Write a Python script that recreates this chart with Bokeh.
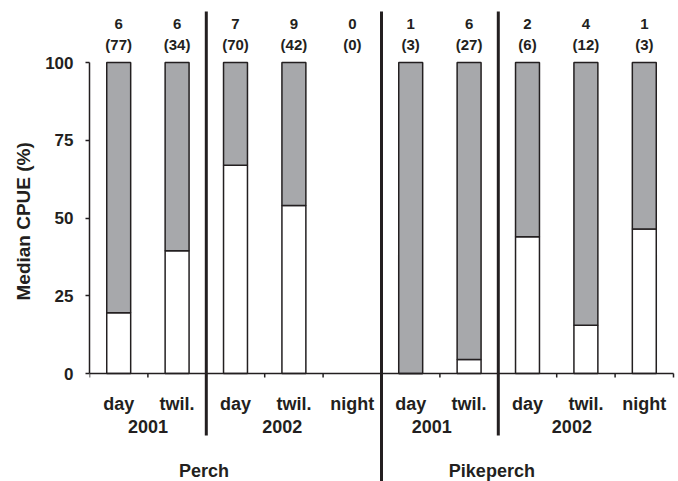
import numpy as np
from bokeh.plotting import figure
from bokeh.models import Range1d, FixedTicker, ColumnDataSource, Title
from bokeh.embed import file_html
from bokeh.resources import INLINE
from bokeh.core.properties import value

# --- data -------------------------------------------------------------
species = ["Perch", "Pikeperch"]
years = ["2001", "2002", "2001", "2002"]
periods_per_year = [2, 3, 2, 3]
periods = ["day", "twil.", "day", "twil.", "night",
           "day", "twil.", "day", "twil.", "night"]
# share of median CPUE in the lower (white) part of each bar, %
lower_pct = [19.5, 39.5, 67, 54, np.nan, 0, 4.5, 44, 15.5, 46.5]
n_samples = [6, 6, 7, 9, 0, 1, 6, 2, 4, 1]
n_fish = [77, 34, 70, 42, 0, 3, 27, 6, 12, 3]
y_ticks = [0, 25, 50, 75, 100]
y_title = "Median CPUE (%)"

# --- layout constants -------------------------------------------------
FONT = "Liberation Sans"
INK = "#231f20"
GREY = "#a7a8ab"
PX_PER_UNIT = 3.11
PX_PER_CAT = 58.4
year_label_x = [1.0, 3.3, 5.86, 8.26]
species_label_x = [1.96, 6.89]

n = len(periods)
centers = np.arange(n) + 0.5
lower = np.array(lower_pct, dtype=float)
has_bar = ~np.isnan(lower)

p = figure(width=678, height=481, output_backend="svg", toolbar_location=None,
           x_range=Range1d(0, 589 / PX_PER_CAT),
           y_range=Range1d(-108 / PX_PER_UNIT, 373 / PX_PER_UNIT),
           x_axis_location=None,
           min_border_left=89, min_border_right=0,
           min_border_top=0, min_border_bottom=0)
p.outline_line_color = None
p.grid.visible = False
p.background_fill_color = "white"

# y axis, drawn only over 0-100 %
ya = p.yaxis[0]
ya.bounds = (0, 100)
ya.ticker = FixedTicker(ticks=y_ticks)
ya.minor_tick_line_color = None
ya.major_tick_in = 0
ya.major_tick_out = 4
ya.axis_line_width = 1.5
ya.major_tick_line_width = 1.5
ya.axis_line_color = INK
ya.major_tick_line_color = INK
ya.major_label_text_font = FONT
ya.major_label_text_font_style = "bold"
ya.major_label_text_font_size = "17px"
ya.major_label_text_color = INK
ya.major_label_standoff = 12

# axis title, placed from the bottom so it sits centred on the 0-100 span
p.add_layout(Title(text=y_title, align="left", offset=181, standoff=18,
                   text_font=FONT, text_font_style="bold", text_font_size="19px",
                   text_color=INK), "left")

# stacked bars: white lower part, grey remainder up to 100 %
bars = ColumnDataSource(dict(x=centers[has_bar], low=lower[has_bar],
                             top=np.full(has_bar.sum(), 100.0)))
p.vbar(x="x", bottom=0, top="low", width=0.41, source=bars,
       fill_color="white", line_color=INK, line_width=1.5)
p.vbar(x="x", bottom="low", top="top", width=0.41, source=bars,
       fill_color=GREY, line_color=INK, line_width=1.5)

# category axis along y = 0
tick_len = 4 / PX_PER_UNIT
p.segment(x0=[0], y0=[0], x1=[n], y1=[0], line_color=INK, line_width=1.5)
edges = np.arange(n + 1)
p.segment(x0=edges, y0=np.zeros(n + 1), x1=edges, y1=np.full(n + 1, -tick_len),
          line_color=INK, line_width=1.5)

# separators between years and species
year_edges = np.cumsum(periods_per_year)[:-1]
species_edge = int(np.sum(periods_per_year[:2]))
sep_top = 362 / PX_PER_UNIT
short_bottom = -62 / PX_PER_UNIT
long_bottom = -110 / PX_PER_UNIT
sep_bottom = [long_bottom if e == species_edge else short_bottom for e in year_edges]
p.segment(x0=year_edges, y0=np.full(len(year_edges), sep_top),
          x1=year_edges, y1=sep_bottom, line_color=INK, line_width=3)

def labels(xs, ys, texts, size):
    p.text(x=list(xs), y=list(ys), text=list(texts),
           text_font=value(FONT), text_font_style="bold",
           text_font_size=size, text_color=INK,
           text_align="center", text_baseline="middle")

# sample sizes above bars
labels(centers, np.full(n, 350 / PX_PER_UNIT), [str(v) for v in n_samples], "15px")
labels(centers, np.full(n, 329 / PX_PER_UNIT), [f"({v})" for v in n_fish], "15px")

# period, year and species labels below the axis
labels(centers, np.full(n, -30 / PX_PER_UNIT), periods, "18px")
labels(year_label_x, np.full(len(years), -53 / PX_PER_UNIT), years, "18px")
labels(species_label_x, np.full(len(species), -97 / PX_PER_UNIT), species, "18px")

open("out.html", "w").write(file_html(p, INLINE))
